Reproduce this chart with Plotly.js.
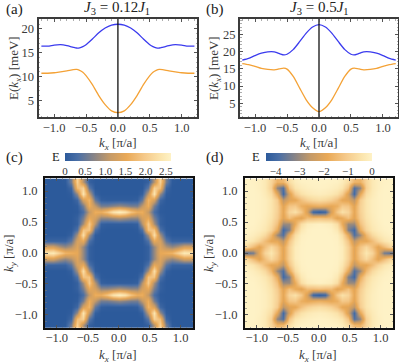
<!DOCTYPE html>
<html><head><meta charset="utf-8">
<script src="https://cdn.plot.ly/plotly-3.0.1.min.js"></script>
<style>html,body{margin:0;padding:0;background:#fff}</style></head>
<body><div id="g" style="width:399px;height:363px"></div>
<script>
const kLine=[-1.2,-1.1,-1,-0.9,-0.8,-0.7,-0.65,-0.6,-0.55,-0.5,-0.4,-0.3,-0.2,-0.1,0,0.1,0.2,0.3,0.4,0.5,0.55,0.6,0.65,0.7,0.8,0.9,1,1.1,1.2];
const blueA=[16.4,16.4,16.6,16.7,16.5,16.15,16,16.05,16.3,16.7,17.9,19.2,20.2,20.8,21,20.8,20.2,19.2,17.9,16.7,16.3,16.05,16,16.15,16.5,16.7,16.6,16.4,16.4];
const orangeA=[10.7,10.7,10.8,11,11.2,11.45,11.5,11.3,10.9,10.2,8.3,6,4.1,2.8,2.4,2.8,4.1,6,8.3,10.2,10.9,11.3,11.5,11.45,11.2,11,10.8,10.7,10.7];
const blueB=[17.5,18,18.8,19.5,19.9,19.9,19.6,19.25,19,19.2,20.6,22.9,25.3,27.1,27.8,27.1,25.3,22.9,20.6,19.2,19,19.25,19.6,19.9,19.9,19.5,18.8,18,17.5];
const orangeB=[16.5,16.2,15.7,15.1,14.8,14.7,14.8,15.05,15.2,14.9,12.7,9.3,6,3.7,2.6,3.7,6,9.3,12.7,14.9,15.2,15.05,14.8,14.7,14.8,15.1,15.7,16.2,16.5];
const kGrid=[-1.15,-1.054,-.958,-.863,-.767,-.671,-.575,-.479,-.383,-.288,-.192,-.096,0,.096,.192,.288,.383,.479,.575,.671,.767,.863,.958,1.054,1.15];
const energyC=[
[0,0,0,.02,.6,2.1,1,.1,0,0,0,0,0,0,0,0,0,.1,1,2.1,.6,.02,0,0,0],
[0,0,0,0,.2,1.8,2.1,.45,0,0,0,0,0,0,0,0,0,.45,2.1,1.8,.2,0,0,0,0],
[0,0,0,0,.05,.8,2.4,1.1,.1,0,0,0,0,0,0,0,.1,1.1,2.4,.8,.05,0,0,0,0],
[0,0,0,0,0,.2,1.3,1.7,.5,.08,.05,.05,.05,.05,.05,.08,.5,1.7,1.3,.2,0,0,0,0,0],
[0,0,0,0,0,.05,.6,1.6,1.1,.6,.6,.7,.8,.7,.6,.6,1.1,1.6,.6,.05,0,0,0,0,0],
[0,0,0,0,0,.02,.3,1.1,1.6,1.6,1.9,2.4,2.6,2.4,1.9,1.6,1.6,1.1,.3,.02,0,0,0,0,0],
[0,0,0,0,0,.1,.6,1.5,1.3,.8,.8,.9,1,.9,.8,.8,1.3,1.5,.6,.1,0,0,0,0,0],
[0,0,0,0,0,.1,.9,2,1,.1,.06,.06,.06,.06,.06,.1,1,2,.9,.1,0,0,0,0,0],
[0,0,0,0,.02,.35,1.9,1.9,.35,.02,0,0,0,0,0,.02,.35,1.9,1.9,.35,.02,0,0,0,0],
[0,0,0,0,.1,.9,2.3,.9,.05,0,0,0,0,0,0,0,.05,.9,2.3,.9,.1,0,0,0,0],
[.15,.15,.15,.15,.45,1.3,1.5,.35,.02,0,0,0,0,0,0,0,.02,.35,1.5,1.3,.45,.15,.15,.15,.15],
[1.3,1.3,1,.8,1,1.4,.8,.1,0,0,0,0,0,0,0,0,0,.1,.8,1.4,1,.8,1,1.3,1.3],
[2.4,2.5,2.1,1.7,1.6,1.5,.8,.1,0,0,0,0,0,0,0,0,0,.1,.8,1.5,1.6,1.7,2.1,2.5,2.4],
[1.3,1.3,1,.8,1,1.4,.8,.1,0,0,0,0,0,0,0,0,0,.1,.8,1.4,1,.8,1,1.3,1.3],
[.15,.15,.15,.15,.45,1.3,1.5,.35,.02,0,0,0,0,0,0,0,.02,.35,1.5,1.3,.45,.15,.15,.15,.15],
[0,0,0,0,.1,.9,2.3,.9,.05,0,0,0,0,0,0,0,.05,.9,2.3,.9,.1,0,0,0,0],
[0,0,0,0,.02,.35,1.9,1.9,.35,.02,0,0,0,0,0,.02,.35,1.9,1.9,.35,.02,0,0,0,0],
[0,0,0,0,0,.1,.9,2,1,.1,.06,.06,.06,.06,.06,.1,1,2,.9,.1,0,0,0,0,0],
[0,0,0,0,0,.1,.6,1.5,1.3,.8,.8,.9,1,.9,.8,.8,1.3,1.5,.6,.1,0,0,0,0,0],
[0,0,0,0,0,.02,.3,1.1,1.6,1.6,1.9,2.4,2.6,2.4,1.9,1.6,1.6,1.1,.3,.02,0,0,0,0,0],
[0,0,0,0,0,.05,.6,1.6,1.1,.6,.6,.7,.8,.7,.6,.6,1.1,1.6,.6,.05,0,0,0,0,0],
[0,0,0,0,0,.2,1.3,1.7,.5,.08,.05,.05,.05,.05,.05,.08,.5,1.7,1.3,.2,0,0,0,0,0],
[0,0,0,0,.05,.8,2.4,1.1,.1,0,0,0,0,0,0,0,.1,1.1,2.4,.8,.05,0,0,0,0],
[0,0,0,0,.2,1.8,2.1,.45,0,0,0,0,0,0,0,0,0,.45,2.1,1.8,.2,0,0,0,0],
[0,0,0,.02,.6,2.1,1,.1,0,0,0,0,0,0,0,0,0,.1,1,2.1,.6,.02,0,0,0]];
const energyD=[
[0,-.03,-.1,-.3,-.8,-1.6,-1.5,-.6,-.2,-.05,-.02,0,0,0,-.02,-.05,-.2,-.6,-1.5,-1.6,-.8,-.3,-.1,-.03,0],
[0,0,-.1,-.3,-.9,-3.1,-3.8,-1.2,-.4,-.2,-.1,-.05,-.02,-.05,-.1,-.2,-.4,-1.2,-3.8,-3.1,-.9,-.3,-.1,0,0],
[0,0,-.05,-.25,-.6,-1.9,-4,-2.2,-1,-.5,-.3,-.2,-.15,-.2,-.3,-.5,-1,-2.2,-4,-1.9,-.6,-.25,-.05,0,0],
[0,0,-.05,-.15,-.4,-1,-2.6,-2,-1.9,-1.3,-.9,-.7,-.6,-.7,-.9,-1.3,-1.9,-2,-2.6,-1,-.4,-.15,-.05,0,0],
[0,0,-.05,-.15,-.4,-.9,-2,-1.2,-1.1,-1.7,-1.9,-1.8,-1.7,-1.8,-1.9,-1.7,-1.1,-1.2,-2,-.9,-.4,-.15,-.05,0,0],
[0,0,-.05,-.15,-.4,-.9,-1.9,-.8,-.5,-1.1,-2.2,-4.1,-4.3,-4.1,-2.2,-1.1,-.5,-.8,-1.9,-.9,-.4,-.15,-.05,0,0],
[0,0,-.05,-.2,-.45,-1,-2,-1.3,-1.8,-2,-1.4,-1.4,-1.3,-1.4,-1.4,-2,-1.8,-1.3,-2,-1,-.45,-.2,-.05,0,0],
[0,0,-.1,-.25,-.6,-1.3,-3,-3,-1.8,-.6,-.2,-.1,-.05,-.1,-.2,-.6,-1.8,-3,-3,-1.3,-.6,-.25,-.1,0,0],
[0,-.05,-.15,-.35,-.8,-1.8,-4,-3.3,-1.2,-.3,-.05,0,0,0,-.05,-.3,-1.2,-3.3,-4,-1.8,-.8,-.35,-.15,-.05,0],
[-.05,-.15,-.35,-.7,-1.5,-3,-3.8,-1.9,-.6,-.1,-.02,0,0,0,-.02,-.1,-.6,-1.9,-3.8,-3,-1.5,-.7,-.35,-.15,-.05],
[-.2,-.4,-.8,-1.4,-1.9,-1.9,-2.6,-1.2,-.35,-.05,0,0,0,0,0,-.05,-.35,-1.2,-2.6,-1.9,-1.9,-1.4,-.8,-.4,-.2],
[-.8,-1.4,-2,-1.3,-.7,-1.2,-2,-.9,-.2,-.03,0,0,0,0,0,-.03,-.2,-.9,-2,-1.2,-.7,-1.3,-2,-1.4,-.8],
[-3.7,-3.4,-1.9,-.8,-.35,-1,-2,-.9,-.2,-.03,0,0,0,0,0,-.03,-.2,-.9,-2,-1,-.35,-.8,-1.9,-3.4,-3.7],
[-.8,-1.4,-2,-1.3,-.7,-1.2,-2,-.9,-.2,-.03,0,0,0,0,0,-.03,-.2,-.9,-2,-1.2,-.7,-1.3,-2,-1.4,-.8],
[-.2,-.4,-.8,-1.4,-1.9,-1.9,-2.6,-1.2,-.35,-.05,0,0,0,0,0,-.05,-.35,-1.2,-2.6,-1.9,-1.9,-1.4,-.8,-.4,-.2],
[-.05,-.15,-.35,-.7,-1.5,-3,-3.8,-1.9,-.6,-.1,-.02,0,0,0,-.02,-.1,-.6,-1.9,-3.8,-3,-1.5,-.7,-.35,-.15,-.05],
[0,-.05,-.15,-.35,-.8,-1.8,-4,-3.3,-1.2,-.3,-.05,0,0,0,-.05,-.3,-1.2,-3.3,-4,-1.8,-.8,-.35,-.15,-.05,0],
[0,0,-.1,-.25,-.6,-1.3,-3,-3,-1.8,-.6,-.2,-.1,-.05,-.1,-.2,-.6,-1.8,-3,-3,-1.3,-.6,-.25,-.1,0,0],
[0,0,-.05,-.2,-.45,-1,-2,-1.3,-1.8,-2,-1.4,-1.4,-1.3,-1.4,-1.4,-2,-1.8,-1.3,-2,-1,-.45,-.2,-.05,0,0],
[0,0,-.05,-.15,-.4,-.9,-1.9,-.8,-.5,-1.1,-2.2,-4.1,-4.3,-4.1,-2.2,-1.1,-.5,-.8,-1.9,-.9,-.4,-.15,-.05,0,0],
[0,0,-.05,-.15,-.4,-.9,-2,-1.2,-1.1,-1.7,-1.9,-1.8,-1.7,-1.8,-1.9,-1.7,-1.1,-1.2,-2,-.9,-.4,-.15,-.05,0,0],
[0,0,-.05,-.15,-.4,-1,-2.6,-2,-1.9,-1.3,-.9,-.7,-.6,-.7,-.9,-1.3,-1.9,-2,-2.6,-1,-.4,-.15,-.05,0,0],
[0,0,-.05,-.25,-.6,-1.9,-4,-2.2,-1,-.5,-.3,-.2,-.15,-.2,-.3,-.5,-1,-2.2,-4,-1.9,-.6,-.25,-.05,0,0],
[0,0,-.1,-.3,-.9,-3.1,-3.8,-1.2,-.4,-.2,-.1,-.05,-.02,-.05,-.1,-.2,-.4,-1.2,-3.8,-3.1,-.9,-.3,-.1,0,0],
[0,-.03,-.1,-.3,-.8,-1.6,-1.5,-.6,-.2,-.05,-.02,0,0,0,-.02,-.05,-.2,-.6,-1.5,-1.6,-.8,-.3,-.1,-.03,0]];
const ticksK=[-1,-0.5,0,0.5,1];
const ticksA=[5,10,15,20];
const ticksB=[5,10,15,20,25];
const ticksBarC=[0,0.5,1,1.5,2,2.5];
const ticksBarD=[-4,-3,-2,-1,0];

const W=399,H=363,serif='Liberation Serif',ink='#3a3a3a';
const scale=[[0,'#2c5a9b'],[0.12,'#4a6fa6'],[0.28,'#8b8585'],[0.42,'#c49a68'],[0.58,'#e9a957'],[0.75,'#f5c98a'],[0.9,'#fbe4ac'],[1,'#fef2c6']];
function ax(p0,p1,range,extra,isY){
  return Object.assign({domain:isY?[1-p1/H,1-p0/H]:[p0/W,p1/W],range:range,showgrid:false,zeroline:false,
    showline:true,mirror:'allticks',linewidth:2,linecolor:'#3c3c3c',ticks:'inside',ticklen:3,tickwidth:1,tickcolor:'#555',
    tickfont:{family:serif,size:12.5,color:ink}},extra);
}
const kx={tickmode:'array',tickvals:ticksK,ticktext:ticksK.map(v=>(v<0?'−':'')+Math.abs(v).toFixed(1))};
const mn=d=>({ticks:'inside',ticklen:1.5,tickwidth:.6,tickcolor:'#777',dtick:d});
const dark={minor:mn(0.1),linecolor:'#111'};
const eTitle='E(<i>k<sub>x</sub></i>) [meV]',xTitle='<i>k<sub>x</sub></i> [π/a]',yTitle='<i>k<sub>y</sub></i> [π/a]';
function note(t,x,y,size,anchor,angle,color){return {text:t,xref:'paper',yref:'paper',x:x/W,y:1-y/H,xanchor:anchor,yanchor:'middle',textangle:angle||0,showarrow:false,font:{family:serif,size:size,color:color||'#222'}};}
const layout={width:W,height:H,margin:{l:0,r:0,t:0,b:0},paper_bgcolor:'#fff',plot_bgcolor:'#fff',showlegend:false,
 xaxis: ax(38.5,197,[-1.245,1.24],Object.assign({anchor:'y',minor:mn(0.1),ticklabelstandoff:-2},kx)),
 yaxis: ax(19,117,[1.5,22.1],{anchor:'x',tickvals:ticksA,minor:mn(1)},true),
 xaxis2:ax(240,398,[-1.235,1.235],Object.assign({anchor:'y2',minor:mn(0.1),ticklabelstandoff:-2},kx)),
 yaxis2:ax(19,117,[1.03,29.4],{anchor:'x2',tickvals:ticksB,minor:mn(1)},true),
 xaxis3:ax(45,193,[-1.19,1.2],Object.assign({anchor:'y3',ticklabelstandoff:-3},dark,kx)),
 yaxis3:ax(178,328,[-1.21,1.21],Object.assign({anchor:'x3',ticklabelstandoff:3},dark,kx),true),
 xaxis4:ax(245,393,[-1.19,1.2],Object.assign({anchor:'y4',ticklabelstandoff:-3},dark,kx)),
 yaxis4:ax(178,328,[-1.21,1.21],Object.assign({anchor:'x4',ticklabelstandoff:3},dark,kx),true),
 annotations:[
  note('(a)',4,9,15,'left'),note('(b)',204,9,15,'left'),note('(c)',4,158,15,'left'),note('(d)',204,158,15,'left'),
  note('E',50,157,12.5,'left'),note('E',250,157,12.5,'left'),
  note('<i>J</i><sub>3</sub> = 0.12<i>J</i><sub>1</sub>',117,8,15,'center'),
  note('<i>J</i><sub>3</sub> = 0.5<i>J</i><sub>1</sub>',319,8,15,'center'),
  note(eTitle,14,68,13,'center',-90,ink),note(eTitle,214,68,13,'center',-90,ink),
  note(yTitle,9,253,13,'center',-90,ink),note(yTitle,209,253,13,'center',-90,ink),
  note(xTitle,118,143,13,'center',0,ink),note(xTitle,319,143,13,'center',0,ink),
  note(xTitle,118,355,13,'center',0,ink),note(xTitle,318,355,13,'center',0,ink)
 ]
};
function curve(x,y,c,xa,ya){return {type:'scatter',mode:'lines',x:x,y:y,xaxis:xa,yaxis:ya,line:{color:c,width:1.3,shape:'spline',smoothing:0.6},hoverinfo:'skip'};}
function vline(xa,ya,r){return {type:'scatter',mode:'lines',x:[0,0],y:r,xaxis:xa,yaxis:ya,line:{color:'#111',width:1.3},hoverinfo:'skip'};}
function heat(z,xa,ya,zmin,zmax,cx,tv){
 return {type:'heatmap',x:kGrid,y:kGrid,z:z,xaxis:xa,yaxis:ya,zmin:zmin,zmax:zmax,zsmooth:'best',colorscale:scale,hoverinfo:'skip',
  colorbar:{orientation:'h',x:cx/W,xref:'paper',xanchor:'center',y:1-153/H,yref:'paper',yanchor:'top',len:106,lenmode:'pixels',thickness:8,thicknessmode:'pixels',
   outlinewidth:0,xpad:0,ypad:0,ticks:'',tickmode:'array',tickvals:tv,ticktext:tv.map(v=>v==0?'0':(v<0?'−'+Math.abs(v):(tv===ticksBarC?v.toFixed(1):''+v))),ticklabelposition:'outside bottom',tickfont:{family:serif,size:11,color:ink}}};
}
Plotly.newPlot('g',[
 curve(kLine,blueA,'#3b3bee','x','y'),curve(kLine,orangeA,'#f4a236','x','y'),vline('x','y',[1.5,22.1]),
 curve(kLine,blueB,'#3b3bee','x2','y2'),curve(kLine,orangeB,'#f4a236','x2','y2'),vline('x2','y2',[1.03,29.4]),
 heat(energyC,'x3','y3',0,2.63,118,ticksBarC),
 heat(energyD,'x4','y4',-4.4,0,319,ticksBarD)
],layout,{staticPlot:true,displayModeBar:false});
</script></body></html>
